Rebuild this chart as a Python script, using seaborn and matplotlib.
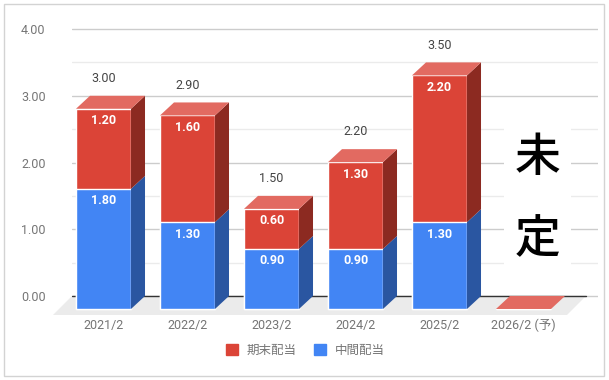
import numpy as np
import pandas as pd
import seaborn as sns
import matplotlib.pyplot as plt
from matplotlib.patches import Polygon, Rectangle, Patch

# data
periods = ['2021/2', '2022/2', '2023/2', '2024/2', '2025/2', '2026/2 (予)']
interim = [1.80, 1.30, 0.90, 0.90, 1.30, 0.0]   # 中間配当
final = [1.20, 1.60, 0.60, 1.30, 2.20, 0.0]     # 期末配当
total_labels = ['3.00', '2.90', '1.50', '2.20', '3.50', '']
series_names = ['期末配当', '中間配当']

RED, RED_SIDE, RED_TOP = '#db4437', '#8c2a21', '#e26a61'
BLUE, BLUE_SIDE = '#4285f4', '#2a56a1'

sns.set_style('white')
plt.rcParams['font.family'] = ['Roboto', 'Noto Sans CJK JP', 'DejaVu Sans']

df = pd.DataFrame({'period': periods, 'interim': interim, 'final': final})
df['total'] = df['interim'] + df['final']

fig = plt.figure(figsize=(6.09, 3.8), dpi=100)
ax = fig.add_axes([72 / 609, (380 - 316) / 380, 526 / 609, (316 - 25.7) / 380])

w = 0.655
# stacked: red = total, blue drawn over the bottom part
sns.barplot(data=df, x='period', y='total', color=RED, width=w, saturation=1,
            errorbar=None, ax=ax, zorder=3)
sns.barplot(data=df, x='period', y='interim', color=BLUE, width=w, saturation=1,
            errorbar=None, ax=ax, zorder=3)

# fake 3D depth (front faces pushed down-left)
dx, dy = 14 / 84, 13 / 66.75
for p in ax.patches:
    p.set_x(p.get_x() - dx)
    p.set_y(p.get_y() - dy)

for i, row in df.iterrows():
    b, t = row['interim'], row['total']
    x0, x1 = i - w / 2, i + w / 2
    ax.add_patch(Polygon([(x1 - dx, -dy), (x1 - dx, b - dy), (x1, b), (x1, 0)],
                         closed=True, color=BLUE_SIDE, lw=0, zorder=3))
    ax.add_patch(Polygon([(x1 - dx, b - dy), (x1 - dx, t - dy), (x1, t), (x1, b)],
                         closed=True, color=RED_SIDE, lw=0, zorder=3))
    ax.add_patch(Polygon([(x0 - dx, t - dy), (x1 - dx, t - dy), (x1, t), (x0, t)],
                         closed=True, color=RED_TOP, lw=0, zorder=3))
    if b > 0:
        ax.text(i - dx, b - dy - 0.18, f'{b:.2f}', ha='center', va='center',
                color='white', fontsize=9, fontweight='bold', zorder=5)
    if row['final'] > 0:
        ax.text(i - dx, t - dy - 0.18, f"{row['final']:.2f}", ha='center', va='center',
                color='white', fontsize=9, fontweight='bold', zorder=5)
    if total_labels[i]:
        ax.text(i - dx, t + 0.26, total_labels[i], ha='center', va='center',
                color='#444444', fontsize=9, zorder=5)

xl, xr = -(117.5 - 72) / 84, (598 - 117.5) / 84
floor_r = (586 - 117.5) / 84
fdx, fdy = 19 / 84, 19 / 66.75
ax.add_patch(Polygon([(xl, 0), (floor_r, 0), (floor_r - fdx, -fdy), (xl - fdx, -fdy)],
                     closed=True, color='#ebebeb', lw=0, zorder=1, clip_on=False))
ax.plot([xl, floor_r], [0, 0], color='#333333', lw=1, zorder=2)

ax.text(5.0, 1.46, '未\n定', ha='center', va='center', fontsize=33, fontweight='medium',
        family=['Noto Sans CJK JP'], linespacing=1.95, color='black', zorder=6,
        bbox=dict(facecolor='white', edgecolor='none', pad=8))

ax.set_xlim(xl, xr)
ax.set_ylim(-0.3, 4.05)
ax.set_yticks(np.arange(0, 4.01, 1.0))
ax.set_yticks(np.arange(0.5, 4.0, 1.0), minor=True)
ax.set_yticklabels([f'{v:.2f}' for v in np.arange(0, 4.01, 1.0)])
ax.set_xticks(np.arange(len(periods)) - dx)
ax.set_xticklabels(periods)
ax.grid(which='major', axis='y', color='#cccccc', lw=1)
ax.grid(which='minor', axis='y', color='#ebebeb', lw=1)
ax.set_axisbelow(True)
ax.tick_params(axis='y', which='both', length=0, pad=19, labelsize=9, labelcolor='#757575')
ax.tick_params(axis='x', length=0, pad=2, labelsize=9, labelcolor='#757575')
ax.set_xlabel('')
ax.set_ylabel('')
for s in ax.spines.values():
    s.set_visible(False)

handles = [Patch(color=RED, label=series_names[0]), Patch(color=BLUE, label=series_names[1])]
fig.legend(handles=handles, loc='center', bbox_to_anchor=(305 / 609, 1 - 350 / 380), ncol=2,
           frameon=False, fontsize=9, handlelength=1, handleheight=1, handletextpad=0.65,
           columnspacing=1.4, labelcolor='#757575')

fig.patches.append(Rectangle((4 / 609, 4 / 380), 600 / 609, 372 / 380, transform=fig.transFigure,
                             fill=False, edgecolor='#d3d3d3', lw=1))

fig.savefig('out.png', dpi=100)
